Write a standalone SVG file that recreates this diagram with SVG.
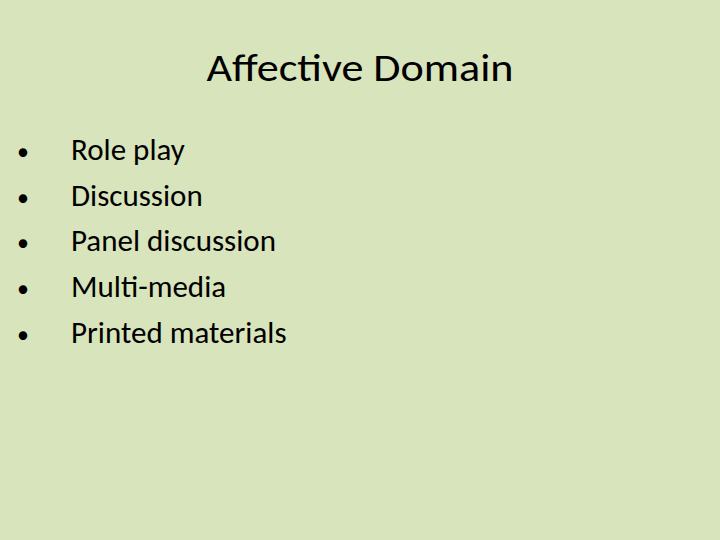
<svg xmlns="http://www.w3.org/2000/svg" width="720" height="540" viewBox="0 0 720 540">
<style>
.t{font-family:Carlito,Lato,"Open Sans",sans-serif;fill:#000}
.b{font-size:31px}
.d{font-size:24px}
</style>
<rect width="720" height="540" fill="#d8e4bc"/>
<g id="title"><text class="t" x="360" y="81" font-size="38" text-anchor="middle" textLength="307" lengthAdjust="spacingAndGlyphs">Affective Domain</text></g>
<g id="bullets" class="t b">
<g id="b1"><text class="d" x="17" y="160">•</text><text x="71" y="160">Role play</text></g>
<g id="b2"><text class="d" x="17" y="206">•</text><text x="71" y="206">Discussion</text></g>
<g id="b3"><text class="d" x="17" y="251">•</text><text x="71" y="251">Panel discussion</text></g>
<g id="b4"><text class="d" x="17" y="297">•</text><text x="71" y="297">Multi-media</text></g>
<g id="b5"><text class="d" x="17" y="343">•</text><text x="71" y="343">Printed materials</text></g>
</g>
</svg>
